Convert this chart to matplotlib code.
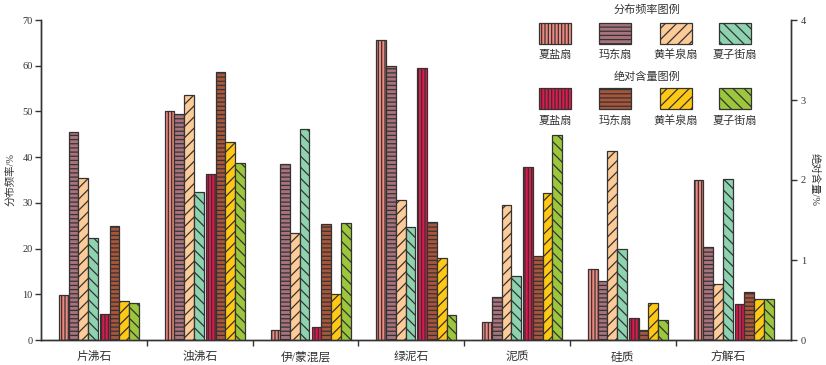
import matplotlib
matplotlib.use("Agg")
import matplotlib.pyplot as plt
import numpy as np
from matplotlib.patches import Rectangle

plt.rcParams['font.family'] = ['Liberation Serif', 'Noto Sans CJK SC', 'DejaVu Sans']
plt.rcParams['hatch.linewidth'] = 0.9
plt.rcParams['axes.unicode_minus'] = False

categories = ['片沸石', '浊沸石', '伊/蒙混层', '绿泥石', '泥质', '硅质', '方解石']
fans = ['夏盐扇', '玛东扇', '黄羊泉扇', '夏子街扇']

# 分布频率 (%) -- left axis
freq_xiayan = [9.8, 50.0, 2.1, 65.7, 4.0, 15.5, 34.9]
freq_madong = [45.6, 49.5, 38.5, 60.0, 9.3, 12.8, 20.3]
freq_huangyangquan = [35.4, 53.5, 23.5, 30.7, 29.6, 41.3, 12.2]
freq_xiazijie = [22.3, 32.3, 46.2, 24.8, 13.9, 20.0, 35.2]

# 绝对含量 (%) -- right axis
abs_xiayan = [0.32, 2.07, 0.16, 3.40, 2.16, 0.28, 0.45]
abs_madong = [1.43, 3.35, 1.45, 1.48, 1.05, 0.12, 0.60]
abs_huangyangquan = [0.49, 2.47, 0.58, 1.03, 1.84, 0.46, 0.51]
abs_xiazijie = [0.46, 2.21, 1.46, 0.31, 2.56, 0.25, 0.51]

freq_series = [freq_xiayan, freq_madong, freq_huangyangquan, freq_xiazijie]
abs_series = [abs_xiayan, abs_madong, abs_huangyangquan, abs_xiazijie]

freq_colors = ['#F08A80', '#A8737C', '#FDCB98', '#8DD3B0']
abs_colors = ['#E0184C', '#A9553A', '#FFC814', '#9CC63C']
hatches = ['|||||', '----', '///', '\\\\\\']
edge = '#333333'
txt = '#333333'

W, H = 826, 365
fig = plt.figure(figsize=(W / 100, H / 100), dpi=100)
ax = fig.add_axes([41 / W, 1 - 340 / H, (791 - 41) / W, (340 - 20) / H])
ax2 = ax.twinx()

x = np.arange(len(categories))
bw = 0.092
gap = 0.02
start = -0.33
for i, vals in enumerate(freq_series):
    ax.bar(x + start + i * bw, vals, width=bw, align='edge', color=freq_colors[i],
           edgecolor=edge, hatch=hatches[i], linewidth=0.9)
abs_start = start + 4 * bw + gap
for i, vals in enumerate(abs_series):
    ax2.bar(x + abs_start + i * bw, vals, width=bw, align='edge', color=abs_colors[i],
            edgecolor=edge, hatch=hatches[i], linewidth=0.9)

ax.set_xlim(-0.5, 6.59)
ax.set_ylim(0, 70)
ax2.set_ylim(0, 4)
ax.set_yticks(np.arange(0, 71, 10))
ax2.set_yticks(np.arange(0, 5, 1))

ax.set_xticks(x)
ax.set_xticklabels(categories, fontsize=8.5, color=txt)
ax.tick_params(axis='x', which='major', length=0, pad=8)
ax.set_xticks(np.arange(0.5, 6.0, 1), minor=True)
ax.tick_params(axis='x', which='minor', length=4, width=1, color=edge, direction='out')

ax.tick_params(axis='y', labelsize=7.5, colors=txt, length=4, width=1, direction='out', pad=2)
ax2.tick_params(axis='y', labelsize=7.5, colors=txt, length=4, width=1, direction='out', pad=3)
for a in (ax, ax2):
    a.spines['top'].set_visible(False)
    for s in ('left', 'right', 'bottom'):
        a.spines[s].set_color(edge)
        a.spines[s].set_linewidth(1)

ax.set_ylabel('分布频率/%', fontsize=7.5, color=txt, labelpad=5)
ax2.set_ylabel('绝对含量/%', fontsize=7.5, color=txt, rotation=270, labelpad=10)

# custom legends
def fx(px):
    return px / W

def fy(py):
    return 1 - py / H

lx = [539, 599, 660, 719]
pw = 32
fig.text(fx(647), fy(10), '分布频率图例', ha='center', va='center', fontsize=8, color=txt)
for i in range(4):
    fig.add_artist(Rectangle((fx(lx[i]), fy(44)), pw / W, 21 / H, transform=fig.transFigure,
                             facecolor=freq_colors[i], edgecolor=edge, hatch=hatches[i], linewidth=0.9))
    fig.text(fx(lx[i] + pw / 2), fy(55), fans[i], ha='center', va='center', fontsize=8, color=txt)
fig.text(fx(647), fy(77), '绝对含量图例', ha='center', va='center', fontsize=8, color=txt)
for i in range(4):
    fig.add_artist(Rectangle((fx(lx[i]), fy(109)), pw / W, 21 / H, transform=fig.transFigure,
                             facecolor=abs_colors[i], edgecolor=edge, hatch=hatches[i], linewidth=0.9))
    fig.text(fx(lx[i] + pw / 2), fy(121), fans[i], ha='center', va='center', fontsize=8, color=txt)

fig.savefig('out.png', dpi=100)
